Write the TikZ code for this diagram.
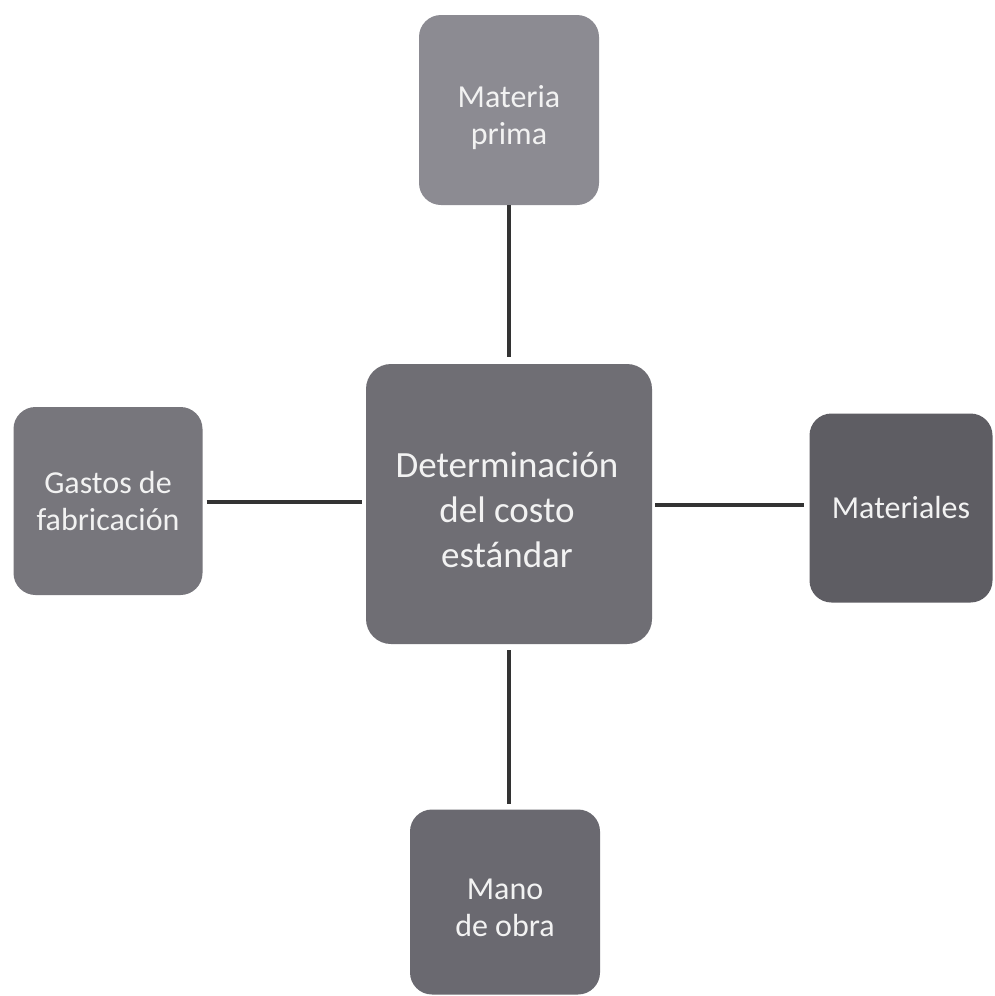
\documentclass[tikz,border=0pt]{standalone}
\usepackage{fontspec}
\setmainfont{Carlito}
\definecolor{cmp}{HTML}{8C8B92}
\definecolor{ccen}{HTML}{6F6E74}
\definecolor{cgf}{HTML}{77767C}
\definecolor{cmat}{HTML}{5E5D63}
\definecolor{cmo}{HTML}{6A6970}
\definecolor{cline}{HTML}{333333}
\definecolor{ctext}{HTML}{F2F2F2}
\begin{document}
\begin{tikzpicture}[x=1pt,y=-1pt,
  box/.style={rounded corners=22pt, inner sep=0pt, text=ctext, align=center,
    font=\fontsize{32}{37}\selectfont},
  link/.style={draw=cline, line width=3.5pt}]
\useasboundingbox (0,0) rectangle (995,996);
\fill[white] (0,0) rectangle (995,996);
\node[box, fill=cmp, minimum width=180pt, minimum height=190pt] (mp) at (509,110) {};
\node[box] (mptext) at (509,118) {Materia\\prima};
\node[box, fill=ccen, rounded corners=25pt, minimum width=286pt, minimum height=280pt] (cen) at (509,504) {};
\node[box, font=\fontsize{37}{45}\selectfont] (centext) at (507,510) {Determinación\\del costo\\estándar};
\node[box, fill=cgf, minimum width=189pt, minimum height=188pt, text depth=0pt] (gf) at (108,501) {Gastos de\\fabricación};
\node[box, fill=cmat, minimum width=183pt, minimum height=189pt] (mat) at (901,508) {Materiales};
\node[box, fill=cmo, minimum width=190pt, minimum height=185pt] (mo) at (505,902) {};
\node[box] (motext) at (505,908) {Mano\\de obra};
\draw[link, shorten >=7pt] (mp.south -| cen.north) -- (cen.north);
\draw[link, shorten <=4pt, shorten >=4pt] (gf.east |- 0,502) -- (cen.west |- 0,502);
\draw[link, shorten <=3pt, shorten >=5pt] (cen.east |- 0,505) -- (mat.west |- 0,505);
\draw[link, shorten <=6pt, shorten >=5pt] (cen.south) -- (cen.south |- mo.north);
\end{tikzpicture}
\end{document}
